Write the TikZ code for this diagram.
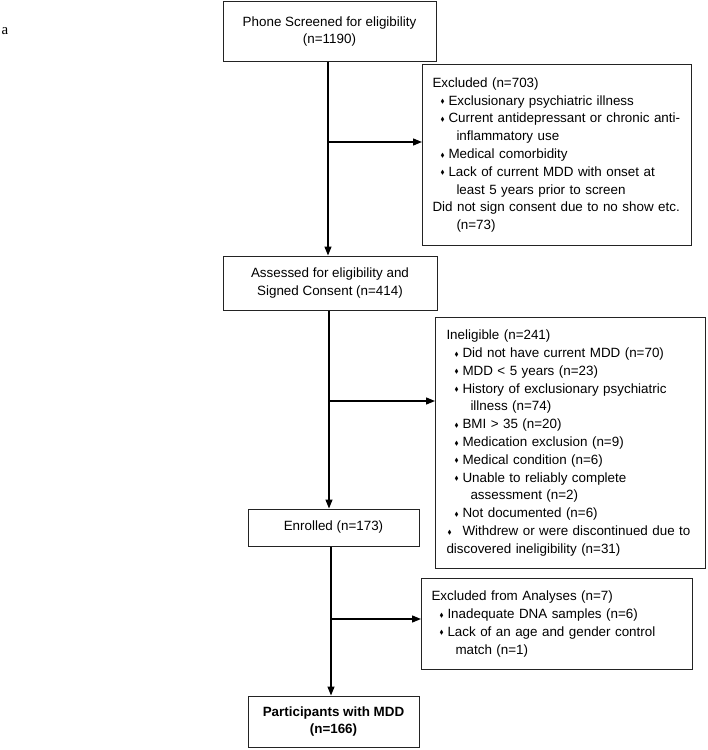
\documentclass[tikz,border=0pt]{standalone}
\usepackage{fontspec}
\setmainfont{Liberation Sans}
\newfontfamily\panelfont{Liberation Serif}
\usepackage{amssymb}
\usetikzlibrary{
    arrows.meta,
    calc,
    positioning
}
\definecolor{boxline}{RGB}{35,35,35}
\newcommand{\flowsize}{\fontsize{13.45}{17.87}\selectfont}
\newcommand{\dmd}{\raisebox{0.2ex}{\scalebox{0.45}{$\blacklozenge$}}}
\newcommand{\bitem}[1]{\makebox[16bp][l]{\hspace*{8bp}\dmd}#1}
\newcommand{\bcont}[1]{\hspace*{24bp}#1}
\tikzset{
    % Box styles
    flow box/.style={
        draw=boxline,
        line width=1bp,
        rectangle,
        inner sep=0pt,
        align=center,
        font=\flowsize
    },
    list box/.style={
        draw=boxline,
        line width=1bp,
        rectangle,
        anchor=north west,
        inner xsep=10bp,
        inner ysep=0pt,
        align=left,
        font=\flowsize
    },
    % Arrow styles
    flow arrow/.style={
        -{Triangle[length=9bp,width=7bp]},
        line width=1.3bp,
        black
    }
}

\begin{document}
\begin{tikzpicture}[x=1bp,y=-1bp]
    \useasboundingbox (0,0) rectangle (708,750);
    \node[font=\panelfont\fontsize{15}{18}\selectfont] (panel) at (5,31) {a};
    % main column
    \node[flow box, minimum width=213bp, minimum height=59bp] (phone) at (329.5,31.5)
        {Phone Screened for eligibility\\(n=1190)};
    \node[flow box, minimum width=214bp, minimum height=54bp] (assessed) at (330,283)
        {Assessed for eligibility and\\Signed Consent (n=414)};
    \node[flow box, minimum width=171bp, minimum height=37bp] (enrolled) at (333.5,527.5)
        {Enrolled (n=173)};
    \node[flow box, minimum width=171bp, minimum height=51bp, font=\flowsize\bfseries] (final) at (333.5,721.5)
        {Participants with MDD\\(n=166)};
    % side boxes
    \node[list box, text width=249bp, minimum height=181bp] (excl) at (422,64) {%
        Excluded (n=703)\\
        \bitem{Exclusionary psychiatric illness}\\
        \bitem{Current antidepressant or chronic anti-}\\
        \bcont{inflammatory use}\\
        \bitem{Medical comorbidity}\\
        \bitem{Lack of current MDD with onset at}\\
        \bcont{least 5 years prior to screen}\\
        Did not sign consent due to no show etc.\\
        \bcont{(n=73)}};
    \node[list box, inner xsep=11bp, text width=248bp, minimum height=251bp] (inelig) at (435,317) {%
        Ineligible (n=241)\\
        \bitem{Did not have current MDD (n=70)}\\
        \bitem{MDD < 5 years (n=23)}\\
        \bitem{History of exclusionary psychiatric}\\
        \bcont{illness (n=74)}\\
        \bitem{BMI > 35 (n=20)}\\
        \bitem{Medication exclusion (n=9)}\\
        \bitem{Medical condition (n=6)}\\
        \bitem{Unable to reliably complete}\\
        \bcont{assessment (n=2)}\\
        \bitem{Not documented (n=6)}\\
        \makebox[16bp][l]{\hspace*{1bp}\dmd}Withdrew or were discontinued due to\\
        discovered ineligibility (n=31)};
    \node[list box, text width=251bp, minimum height=91bp] (analyses) at (421,578) {%
        Excluded from Analyses (n=7)\\
        \bitem{Inadequate DNA samples (n=6)}\\
        \bitem{Lack of an age and gender control}\\
        \bcont{match (n=1)}};
    % branch points
    \coordinate (b1) at (328,142);
    \coordinate (b2) at (329,401);
    \coordinate (b3) at (331,619);
    % arrows
    \draw[flow arrow] (b1 |- phone.south) -- (b1 |- assessed.north);
    \draw[flow arrow] (b1) -- (b1 -| excl.west);
    \draw[flow arrow] (b2 |- assessed.south) -- (b2 |- enrolled.north);
    \draw[flow arrow] (b2) -- (b2 -| inelig.west);
    \draw[flow arrow] (b3 |- enrolled.south) -- (b3 |- final.north);
    \draw[flow arrow] (b3) -- (b3 -| analyses.west);
\end{tikzpicture}
\end{document}
